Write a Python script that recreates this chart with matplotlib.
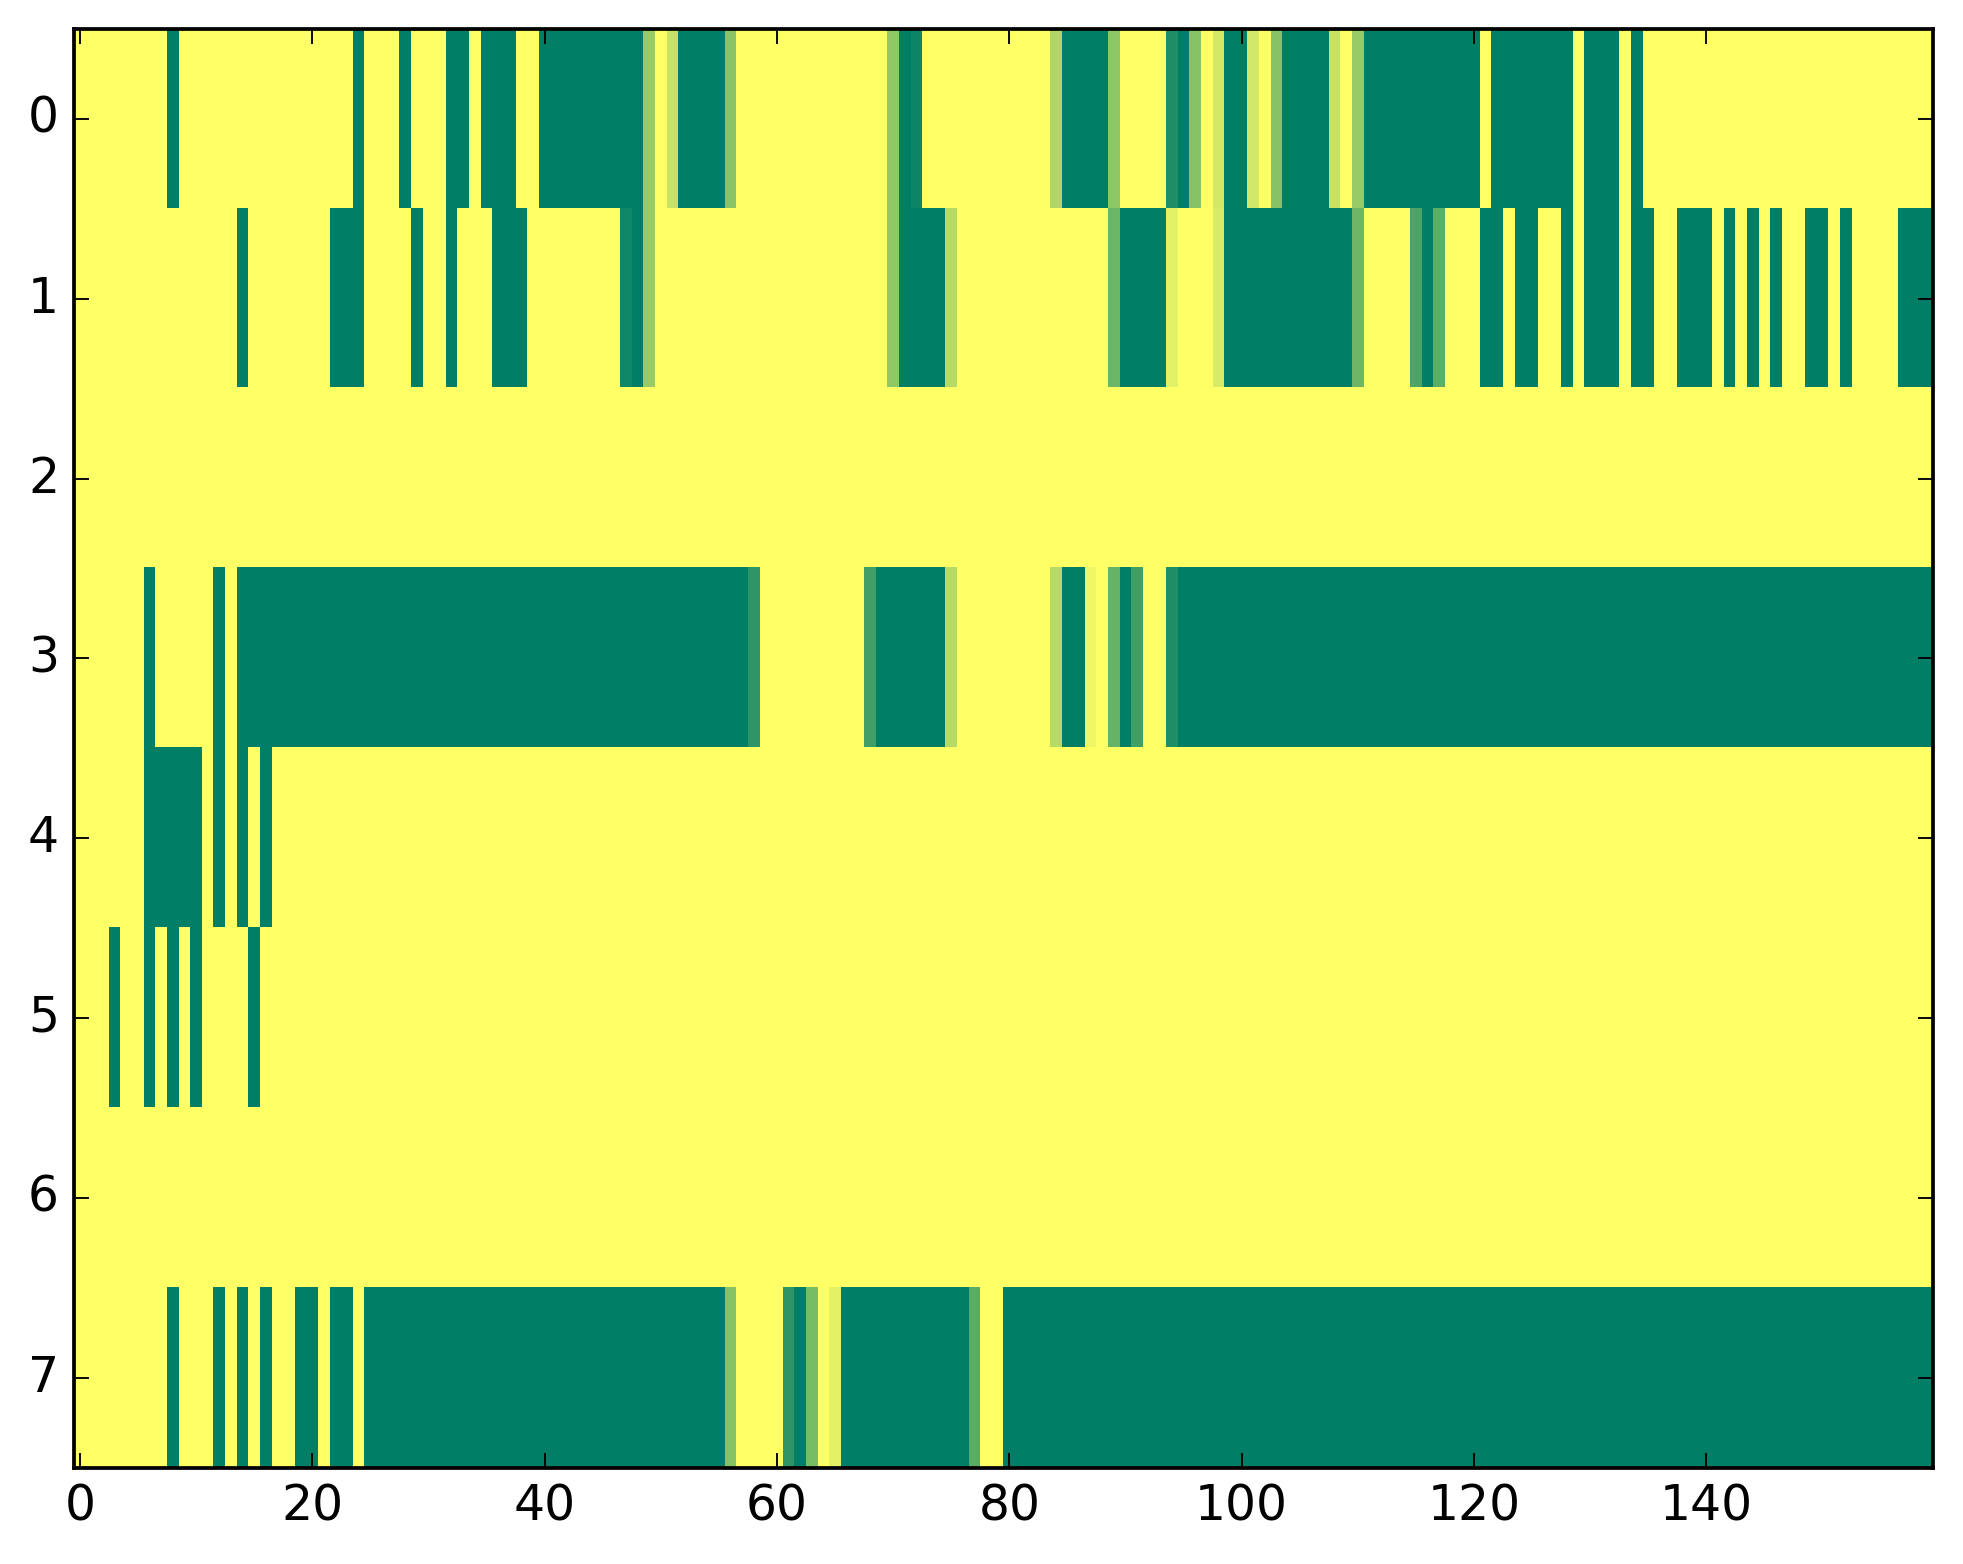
import numpy as np
import matplotlib
matplotlib.use("Agg")
import matplotlib.pyplot as plt

plt.style.use("classic")
plt.rcParams["font.family"] = "DejaVu Sans"
plt.rcParams["xtick.labelsize"] = 13
plt.rcParams["ytick.labelsize"] = 13

N_COLS = 160
row_labels = [0, 1, 2, 3, 4, 5, 6, 7]
x_ticks = [0, 20, 40, 60, 80, 100, 120, 140]

# Runs of fully saturated columns, (first, last) inclusive, for each row
row0_runs = [(8, 8), (24, 24), (28, 28), (32, 33), (35, 37), (40, 48), (52, 55), (71, 71),
             (85, 88), (95, 95), (99, 100), (104, 107), (111, 120), (122, 128), (130, 132), (134, 134)]
row1_runs = [(14, 14), (22, 24), (29, 29), (32, 32), (36, 38), (48, 48), (71, 74), (90, 93),
             (99, 109), (116, 116), (121, 122), (124, 125), (128, 128), (130, 132), (134, 135),
             (138, 140), (142, 142), (144, 144), (146, 146), (149, 150), (152, 152), (157, 159)]
row2_runs = []
row3_runs = [(6, 6), (12, 12), (14, 57), (69, 74), (85, 86), (90, 90), (95, 159)]
row4_runs = [(6, 10), (12, 12), (14, 14), (16, 16)]
row5_runs = [(3, 3), (6, 6), (8, 8), (10, 10), (15, 15)]
row6_runs = []
row7_runs = [(8, 8), (12, 12), (14, 14), (16, 16), (19, 20), (22, 23), (25, 55), (62, 62),
             (66, 76), (80, 159)]

# Columns holding an intermediate value
row0_partial = {49: 0.41, 51: 0.22, 56: 0.46, 70: 0.43, 72: 0.95, 84: 0.31, 89: 0.44, 94: 0.88,
                96: 0.47, 98: 0.17, 101: 0.18, 103: 0.48, 108: 0.22, 110: 0.41}
row1_partial = {47: 0.94, 49: 0.41, 70: 0.43, 75: 0.29, 89: 0.58, 94: 0.11, 98: 0.16, 110: 0.57,
                115: 0.70, 117: 0.64}
row2_partial = {}
row3_partial = {58: 0.82, 68: 0.75, 75: 0.29, 84: 0.29, 87: 0.06, 89: 0.60, 91: 0.75, 94: 0.88}
row4_partial = {}
row5_partial = {}
row6_partial = {}
row7_partial = {56: 0.48, 61: 0.82, 63: 0.52, 65: 0.11, 77: 0.65}

all_runs = [row0_runs, row1_runs, row2_runs, row3_runs, row4_runs, row5_runs, row6_runs, row7_runs]
all_partial = [row0_partial, row1_partial, row2_partial, row3_partial,
               row4_partial, row5_partial, row6_partial, row7_partial]

matrix = np.zeros((len(row_labels), N_COLS))
for i, (runs, partial) in enumerate(zip(all_runs, all_partial)):
    for a, b in runs:
        matrix[i, a:b + 1] = 1.0
    for c, v in partial.items():
        matrix[i, c] = v

W, H = 1963, 1564
DPI = 270
fig = plt.figure(figsize=(W / DPI, H / DPI), dpi=DPI, facecolor="white")
ax = fig.add_axes([74 / W, (H - 1467.5) / H, 1859 / W, 1438.5 / H])
ax.imshow(matrix, cmap="summer_r", vmin=0, vmax=1, aspect="auto", interpolation="nearest")
ax.set_xticks(x_ticks)
ax.set_yticks(row_labels)
ax.set_xlim(-0.5, N_COLS - 0.5)
ax.set_ylim(len(row_labels) - 0.5, -0.5)
fig.savefig("out.png", dpi=DPI, facecolor="white")
